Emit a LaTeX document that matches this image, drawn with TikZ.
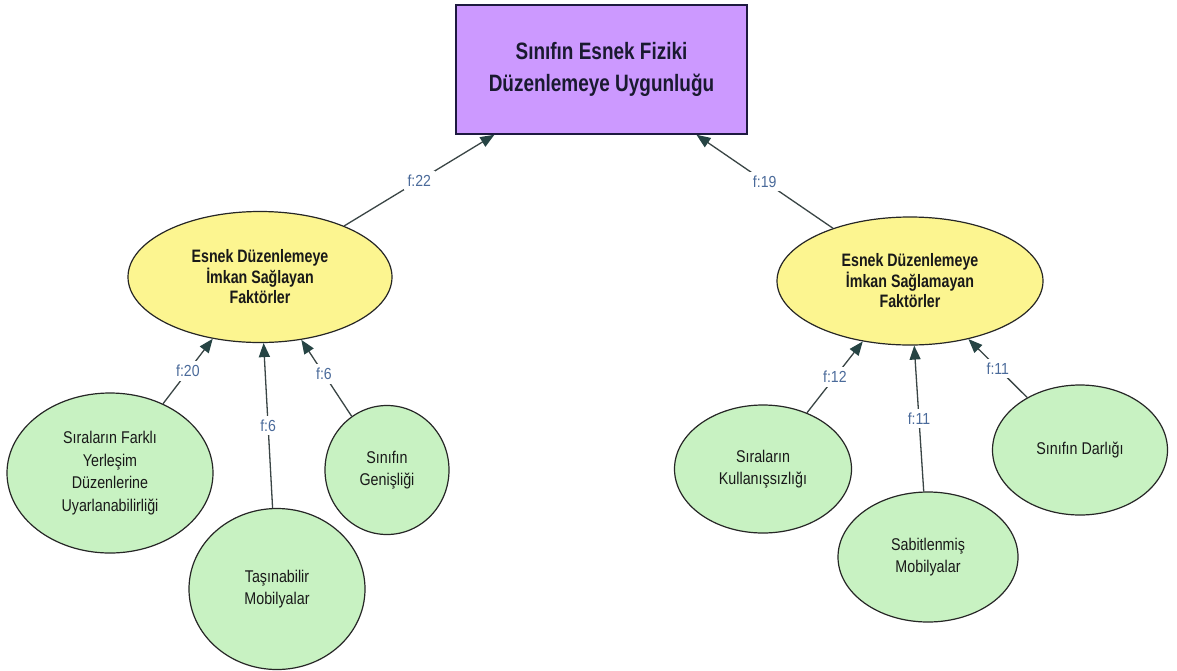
\documentclass[tikz,border=0pt]{standalone}
\usepackage{fontspec}
\setmainfont{Liberation Sans}
\newfontfamily\ttlfont[FakeStretch=0.80]{Liberation Sans}
\newfontfamily\midfont[FakeStretch=0.79]{Liberation Sans}
\newfontfamily\leaffont[FakeStretch=0.84]{Liberation Sans}
\newfontfamily\lblfont[FakeStretch=0.88]{Liberation Sans}
\usetikzlibrary{shapes.geometric,arrows.meta}
\definecolor{boxfill}{HTML}{CC99FF}
\definecolor{boxline}{HTML}{1E1A40}
\definecolor{yelfill}{HTML}{FCF590}
\definecolor{grnfill}{HTML}{C8F2C2}
\definecolor{edgecol}{HTML}{3A4545}
\definecolor{tipcol}{HTML}{264444}
\definecolor{lblcol}{HTML}{4A6A9A}
\definecolor{txtdark}{HTML}{1A1A30}
\tikzset{
  topbox/.style={draw=boxline, line width=1.5pt, fill=boxfill, rectangle, inner sep=0pt,
    minimum width=291pt, minimum height=129pt, align=center, text=txtdark,
    font=\ttlfont\bfseries\fontsize{23.7}{32}\selectfont},
  midell/.style={draw=black!85, line width=1.2pt, fill=yelfill, ellipse, inner sep=0pt,
    align=center, text=black!90, font=\midfont\bfseries\fontsize{18}{20.5}\selectfont},
  leafell/.style={draw=black!85, line width=1.2pt, fill=grnfill, ellipse, inner sep=0pt,
    align=center, text=black!90, font=\leaffont\fontsize{17}{22.5}\selectfont},
  conn/.style={draw=edgecol, line width=1.3pt, -{Triangle[length=14pt,width=11pt,color=tipcol]}},
  lbl/.style={fill=white, inner sep=4pt, text=lblcol, font=\lblfont\fontsize{16}{18}\selectfont}
}
\begin{document}
\begin{tikzpicture}[x=1pt,y=-1pt]
\useasboundingbox[fill=white] (0,0) rectangle (1177,670);
% top node
\node[topbox] (top) at (601.5,69.5) {Sınıfın Esnek Fiziki\\Düzenlemeye Uygunluğu};
% middle nodes
\node[midell, minimum width=264pt, minimum height=131pt] (ly) at (260,277)
  {Esnek Düzenlemeye\\İmkan Sağlayan\\Faktörler};
\node[midell, minimum width=266pt, minimum height=128pt] (ry) at (910,281)
  {Esnek Düzenlemeye\\İmkan Sağlamayan\\Faktörler};
% left leaves
\node[leafell, minimum width=206pt, minimum height=160pt] (l1) at (110,473)
  {Sıraların Farklı\\Yerleşim\\Düzenlerine\\Uyarlanabilirliği};
\node[leafell, minimum width=176pt, minimum height=161pt] (l2) at (277,589)
  {Taşınabilir\\Mobilyalar};
\node[leafell, minimum width=124pt, minimum height=129pt] (l3) at (387,470)
  {Sınıfın\\Genişliği};
% right leaves
\node[leafell, minimum width=177pt, minimum height=128pt] (r1) at (763,469)
  {Sıraların\\Kullanışsızlığı};
\node[leafell, minimum width=180pt, minimum height=130pt] (r2) at (928,557)
  {Sabitlenmiş\\Mobilyalar};
\node[leafell, minimum width=175pt, minimum height=130pt] (r3) at (1080,450)
  {Sınıfın Darlığı};
% connectors
\draw[conn] (ly) -- node[lbl, pos=0.5] {f:22} (top);
\draw[conn] (ry) -- node[lbl, pos=0.5] {f:19} (top);
\draw[conn] (l1) -- node[lbl, pos=0.5] {f:20} (ly);
\draw[conn] (l2) -- node[lbl, pos=0.5] {f:6} (ly);
\draw[conn] (l3) -- node[lbl, pos=0.55] {f:6} (ly);
\draw[conn] (r1) -- node[lbl, pos=0.5] {f:12} (ry);
\draw[conn] (r2) -- node[lbl, pos=0.5] {f:11} (ry);
\draw[conn] (r3) -- node[lbl, pos=0.5] {f:11} (ry);
\end{tikzpicture}
\end{document}
